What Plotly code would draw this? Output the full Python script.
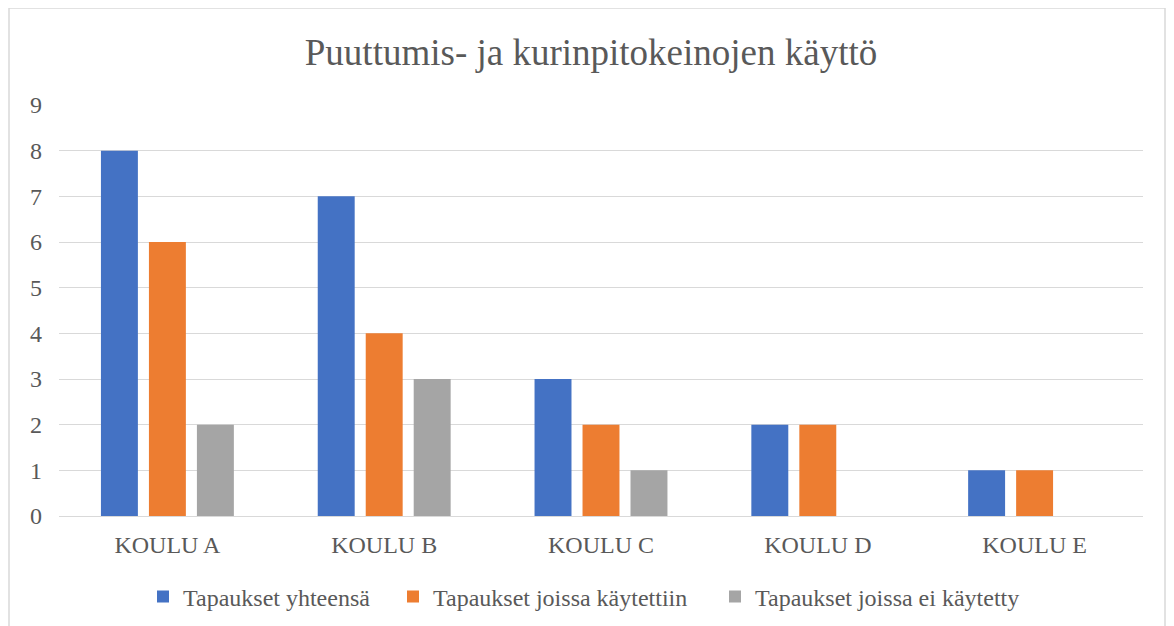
import plotly.graph_objects as go

categories = ["KOULU A", "KOULU B", "KOULU C", "KOULU D", "KOULU E"]
series_names = ["Tapaukset yhteensä", "Tapaukset joissa käytettiin", "Tapaukset joissa ei käytetty"]
yhteensa = [8, 7, 3, 2, 1]
kaytettiin = [6, 4, 2, 2, 1]
ei_kaytetty = [2, 3, 1, 0, 0]
colors = ["#4472C4", "#ED7D31", "#A5A5A5"]
y_ticks = [0, 1, 2, 3, 4, 5, 6, 7, 8, 9]

FONT = "Liberation Serif, Times New Roman, serif"
TXT = "#595959"

legend_ids = ["legend", "legend2", "legend3"]
fig = go.Figure()
for name, vals, col, lid in zip(series_names, [yhteensa, kaytettiin, ei_kaytetty], colors, legend_ids):
    fig.add_trace(go.Bar(x=categories, y=vals, name=name, legend=lid,
                         marker=dict(color=col, line=dict(width=0))))

W, H = 1166, 618
# legend item text starts (page px) in reference
text_starts = [183, 433, 755]
leg_common = dict(orientation="h", yanchor="middle", y=-0.197, xanchor="left",
                  font=dict(size=24, color=TXT, family=FONT), itemwidth=30,
                  bgcolor="rgba(0,0,0,0)")
legends = {}
for lid, ts in zip(legend_ids, text_starts):
    legends[lid] = dict(leg_common, x=(ts - 40 - 59) / 1084)

fig.update_layout(
    width=W, height=H,
    margin=dict(l=51, r=31, t=97, b=110, autoexpand=False),
    paper_bgcolor="white", plot_bgcolor="white",
    font=dict(family=FONT, color=TXT, size=24),
    title=dict(text="Puuttumis- ja kurinpitokeinojen käyttö", x=(591 - 8) / W, xanchor="center",
               y=1 - 44 / H, yanchor="middle", font=dict(size=37, color=TXT, family=FONT)),
    barmode="group", bargap=0.336, bargroupgap=0.23,
    showlegend=True,
    **legends,
    xaxis=dict(showline=False, ticks="", tickfont=dict(size=24, color=TXT), ticklabelstandoff=12),
    yaxis=dict(range=[0, 9], tickvals=y_ticks, showgrid=True, gridcolor="#D9D9D9", gridwidth=1,
               zeroline=True, zerolinecolor="#D9D9D9", zerolinewidth=1,
               ticks="", tickfont=dict(size=24, color=TXT), ticklabelstandoff=16),
    shapes=[dict(type="rect", xref="paper", yref="paper",
                 x0=(9 - 59) / 1084, x1=(1165 - 59) / 1084,
                 y0=-0.3, y1=(516 - 8) / 411,
                 line=dict(color="#D9D9D9", width=1.5), fillcolor="rgba(0,0,0,0)", layer="below")],
)

fig.write_html("out.html")
